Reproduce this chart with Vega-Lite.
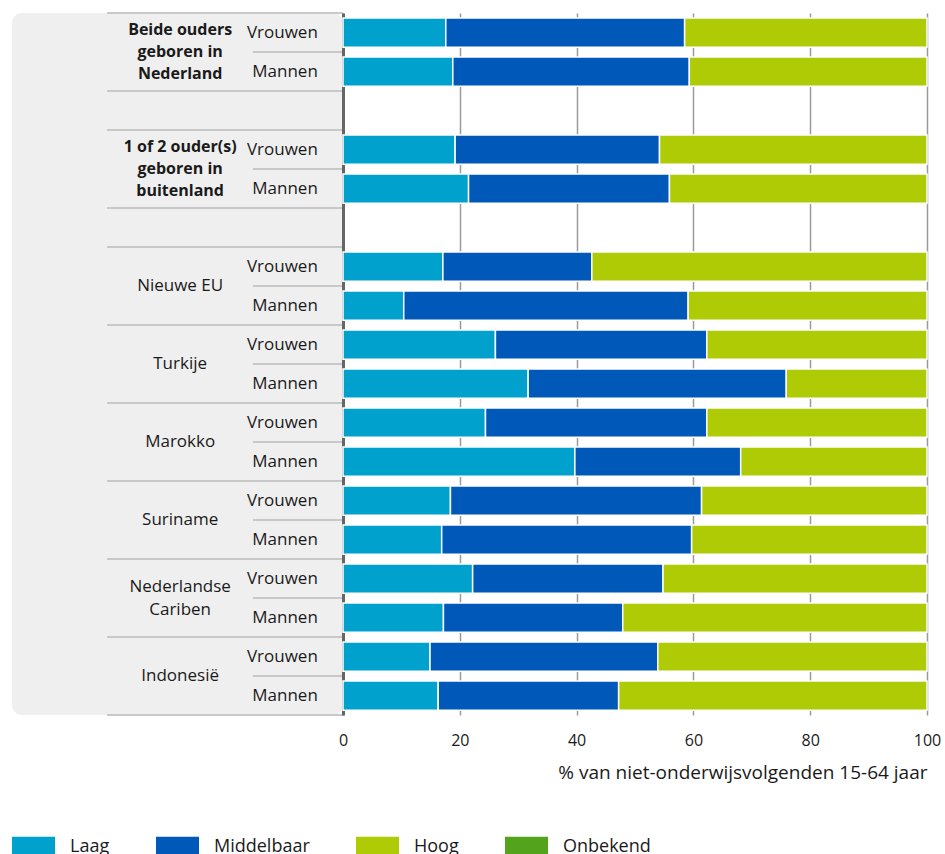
{
  "$schema": "https://vega.github.io/schema/vega-lite/v6.json",
  "padding": {"left": 12, "top": 12, "right": 0, "bottom": 0},
  "background": "white",
  "bounds": "flush",
  "config": {
    "font": "Open Sans",
    "view": {"stroke": null},
    "concat": {"spacing": 0},
    "text": {"lineBreak": "\n"}
  },
  "datasets": {
    "rijen": [
      {"rij": "r01", "groep": "Beide ouders\ngeboren in\nNederland", "geslacht": "Vrouwen", "Laag": 17.6, "Middelbaar": 40.9, "Hoog": 41.5},
      {"rij": "r02", "groep": "Beide ouders\ngeboren in\nNederland", "geslacht": "Mannen", "Laag": 18.8, "Middelbaar": 40.5, "Hoog": 40.7},
      {"rij": "r04", "groep": "1 of 2 ouder(s)\ngeboren in\nbuitenland", "geslacht": "Vrouwen", "Laag": 19.2, "Middelbaar": 35.0, "Hoog": 45.8},
      {"rij": "r05", "groep": "1 of 2 ouder(s)\ngeboren in\nbuitenland", "geslacht": "Mannen", "Laag": 21.5, "Middelbaar": 34.4, "Hoog": 44.1},
      {"rij": "r07", "groep": "Nieuwe EU", "geslacht": "Vrouwen", "Laag": 17.1, "Middelbaar": 25.5, "Hoog": 57.4},
      {"rij": "r08", "groep": "Nieuwe EU", "geslacht": "Mannen", "Laag": 10.4, "Middelbaar": 48.7, "Hoog": 40.9},
      {"rij": "r09", "groep": "Turkije", "geslacht": "Vrouwen", "Laag": 26.1, "Middelbaar": 36.2, "Hoog": 37.7},
      {"rij": "r10", "groep": "Turkije", "geslacht": "Mannen", "Laag": 31.7, "Middelbaar": 44.2, "Hoog": 24.1},
      {"rij": "r11", "groep": "Marokko", "geslacht": "Vrouwen", "Laag": 24.4, "Middelbaar": 37.9, "Hoog": 37.7},
      {"rij": "r12", "groep": "Marokko", "geslacht": "Mannen", "Laag": 39.7, "Middelbaar": 28.4, "Hoog": 31.9},
      {"rij": "r13", "groep": "Suriname", "geslacht": "Vrouwen", "Laag": 18.4, "Middelbaar": 43.0, "Hoog": 38.6},
      {"rij": "r14", "groep": "Suriname", "geslacht": "Mannen", "Laag": 16.9, "Middelbaar": 42.8, "Hoog": 40.3},
      {"rij": "r15", "groep": "Nederlandse\nCariben", "geslacht": "Vrouwen", "Laag": 22.2, "Middelbaar": 32.6, "Hoog": 45.2},
      {"rij": "r16", "groep": "Nederlandse\nCariben", "geslacht": "Mannen", "Laag": 17.2, "Middelbaar": 30.7, "Hoog": 52.1},
      {"rij": "r17", "groep": "Indonesië", "geslacht": "Vrouwen", "Laag": 14.9, "Middelbaar": 39.0, "Hoog": 46.1},
      {"rij": "r18", "groep": "Indonesië", "geslacht": "Mannen", "Laag": 16.3, "Middelbaar": 30.9, "Hoog": 52.8}
    ]
  },
  "hconcat": [
    {
      "width": 331,
      "height": 702,
      "view": {"fill": "#efefef", "stroke": null, "cornerRadius": 10},
      "data": {"name": "rijen"},
      "layer": [
        {
          "transform": [{"filter": "datum.geslacht === 'Vrouwen'"}],
          "mark": {"type": "rule", "color": "#c8c8c8", "strokeWidth": 2},
          "encoding": {
            "y": {"field": "rij", "type": "nominal", "bandPosition": 0,
                  "scale": {"domain": ["r01","r02","r03","r04","r05","r06","r07","r08","r09","r10","r11","r12","r13","r14","r15","r16","r17","r18"], "padding": 0}, "axis": null},
            "x": {"datum": 28.7, "type": "quantitative", "scale": {"domain": [0, 100], "nice": false}, "axis": null},
            "x2": {"datum": 100}
          }
        },
        {
          "transform": [{"filter": "datum.geslacht === 'Mannen'"}],
          "mark": {"type": "rule", "color": "#c8c8c8", "strokeWidth": 2},
          "encoding": {
            "y": {"field": "rij", "type": "nominal", "bandPosition": 0},
            "x": {"datum": 72.8, "type": "quantitative"},
            "x2": {"datum": 100}
          }
        },
        {
          "transform": [{"filter": "datum.geslacht === 'Mannen'"}],
          "mark": {"type": "rule", "color": "#c8c8c8", "strokeWidth": 2},
          "encoding": {
            "y": {"field": "rij", "type": "nominal", "bandPosition": 1},
            "x": {"datum": 28.7, "type": "quantitative"},
            "x2": {"datum": 100}
          }
        },
        {
          "transform": [{"filter": "datum.geslacht === 'Vrouwen' && (datum.rij === 'r01' || datum.rij === 'r04')"}],
          "mark": {"type": "text", "align": "center", "baseline": "middle", "fontSize": 16, "fontWeight": "bold", "color": "#1a1a1a", "lineHeight": 22, "dy": -22},
          "encoding": {
            "y": {"field": "rij", "type": "nominal", "bandPosition": 1},
            "x": {"datum": 50.8, "type": "quantitative"},
            "text": {"field": "groep"}
          }
        },
        {
          "transform": [{"filter": "datum.geslacht === 'Vrouwen' && datum.rij === 'r15'"}],
          "mark": {"type": "text", "align": "center", "baseline": "middle", "fontSize": 17, "color": "#1a1a1a", "lineHeight": 23, "dy": -11},
          "encoding": {
            "y": {"field": "rij", "type": "nominal", "bandPosition": 1},
            "x": {"datum": 50.8, "type": "quantitative"},
            "text": {"field": "groep"}
          }
        },
        {
          "transform": [{"filter": "datum.geslacht === 'Vrouwen' && datum.rij !== 'r01' && datum.rij !== 'r04' && datum.rij !== 'r15'"}],
          "mark": {"type": "text", "align": "center", "baseline": "middle", "fontSize": 17, "color": "#1a1a1a"},
          "encoding": {
            "y": {"field": "rij", "type": "nominal", "bandPosition": 1},
            "x": {"datum": 50.8, "type": "quantitative"},
            "text": {"field": "groep"}
          }
        },
        {
          "mark": {"type": "text", "align": "right", "baseline": "middle", "fontSize": 17, "color": "#1a1a1a"},
          "encoding": {
            "y": {"field": "rij", "type": "nominal"},
            "x": {"datum": 92.4, "type": "quantitative"},
            "text": {"field": "geslacht"}
          }
        }
      ]
    },
    {
      "width": 584,
      "height": 702,
      "data": {"name": "rijen"},
      "transform": [
        {"fold": ["Laag", "Middelbaar", "Hoog"], "as": ["niveau", "waarde"]},
        {"calculate": "datum.niveau === 'Laag' ? 0 : (datum.niveau === 'Middelbaar' ? 1 : 2)", "as": "volgorde"}
      ],
      "mark": {"type": "bar", "stroke": "white", "strokeWidth": 1.5},
      "encoding": {
        "y": {"field": "rij", "type": "nominal",
              "scale": {"domain": ["r01","r02","r03","r04","r05","r06","r07","r08","r09","r10","r11","r12","r13","r14","r15","r16","r17","r18"], "paddingInner": 0.25, "paddingOuter": 0.125},
              "axis": {"title": null, "labels": false, "ticks": false, "grid": false, "domainColor": "#666666", "domainWidth": 3}},
        "x": {"field": "waarde", "type": "quantitative", "stack": "zero",
              "scale": {"domain": [0, 100], "nice": false},
              "axis": {"values": [0, 20, 40, 60, 80, 100], "title": "% van niet-onderwijsvolgenden 15-64 jaar",
                       "titleAnchor": "end", "titleFontSize": 19, "titleFontWeight": "normal", "titleColor": "#1a1a1a", "titlePadding": 15,
                       "grid": true, "gridColor": "#9a9a9a", "gridWidth": 1.5, "domain": false, "ticks": false, "labelFlush": false,
                       "labelPadding": 17, "labelFontSize": 16, "labelColor": "#1a1a1a"}},
        "order": {"field": "volgorde", "type": "quantitative"},
        "color": {"field": "niveau", "type": "nominal",
                  "scale": {"domain": ["Laag", "Middelbaar", "Hoog", "Onbekend"], "range": ["#00a1cd", "#0058b8", "#afcb05", "#53a31d"]},
                  "legend": {"orient": "none", "legendX": 0, "legendY": 812, "direction": "horizontal", "columns": 4, "title": null,
                             "symbolType": "M-1,-0.465H1V0.465H-1Z", "symbolSize": 1849, "symbolStrokeWidth": 0,
                             "labelFontSize": 18, "labelColor": "#1a1a1a", "labelOffset": 15, "columnPadding": 46}}
      }
    }
  ],
  "resolve": {"scale": {"y": "independent", "x": "independent"}}
}
